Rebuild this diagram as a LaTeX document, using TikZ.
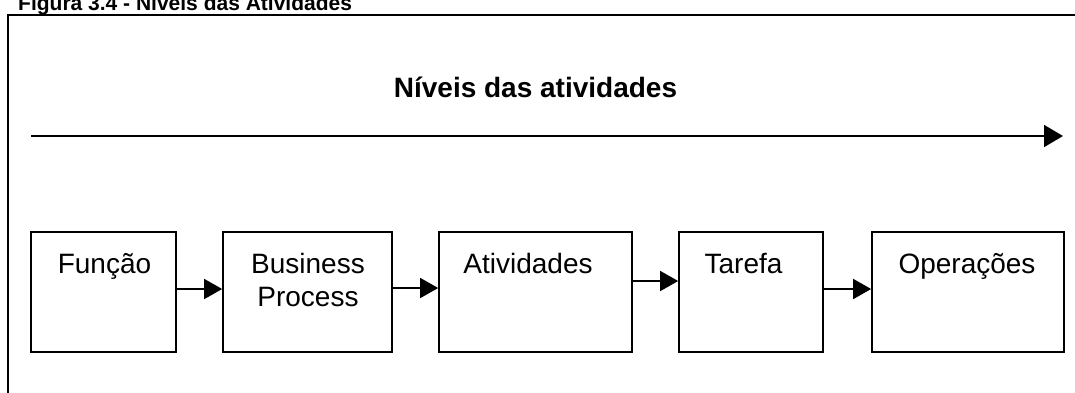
\documentclass[tikz,border=0pt]{standalone}
\usepackage{fontspec}
\setmainfont{Liberation Sans}
\usetikzlibrary{arrows.meta}
\tikzset{
  stagebox/.style={draw=black, line width=1.7pt, inner sep=0pt, fill=none},
  lbl/.style={inner sep=0pt, anchor=base, font=\fontsize{28}{33}\selectfont},
  flow/.style={draw=black, line width=1.7pt, -{Triangle[length=18pt,width=20pt]}},
}
\begin{document}
\begin{tikzpicture}[x=1pt,y=-1pt]
\useasboundingbox (0,0) rectangle (1075,392);
\clip (0,0) rectangle (1075,392);
% title
\node[inner sep=0pt, anchor=base west, font=\bfseries\fontsize{21}{24}\selectfont] (title) at (18,10) {Figura 3.4 - Níveis das Atividades};
% outer frame
\draw[line width=2pt] (8,400) -- (8,14.5) -- (1085,14.5);
% heading
\node[inner sep=0pt, anchor=base, font=\bfseries\fontsize{28}{33}\selectfont] (head) at (535.5,97) {Níveis das atividades};
% long arrow
\coordinate (la) at (31,136);
\coordinate (lb) at (1063,136);
\draw[line width=1.7pt, -{Triangle[length=19pt,width=22pt]}] (la) -- (lb);
% boxes
\node[stagebox, minimum width=145pt, minimum height=120pt] (f) at (103.5,292) {};
\node[stagebox, minimum width=169pt, minimum height=120pt] (bp) at (307.5,292) {};
\node[stagebox, minimum width=193pt, minimum height=120pt] (a) at (535.5,292) {};
\node[stagebox, minimum width=144pt, minimum height=120pt] (t) at (751,292) {};
\node[stagebox, minimum width=192pt, minimum height=120pt] (o) at (968,292) {};
% labels
\node[lbl] (lf) at (104.5,273) {Função};
\node[lbl] (lbp1) at (308,273) {Business};
\node[lbl] (lbp2) at (308,306) {Process};
\node[lbl] (la1) at (528,273) {Atividades};
\node[lbl] (lt) at (743.5,273) {Tarefa};
\node[lbl] (lo) at (967,273) {Operações};
% connectors
\draw[flow] (f.east |- 0,289) -- (bp.west |- 0,289);
\draw[flow] (bp.east |- 0,288) -- (a.west |- 0,288);
\draw[flow] (a.east |- 0,281) -- (t.west |- 0,281);
\draw[flow] (t.east |- 0,289) -- (o.west |- 0,289);
\end{tikzpicture}
\end{document}
